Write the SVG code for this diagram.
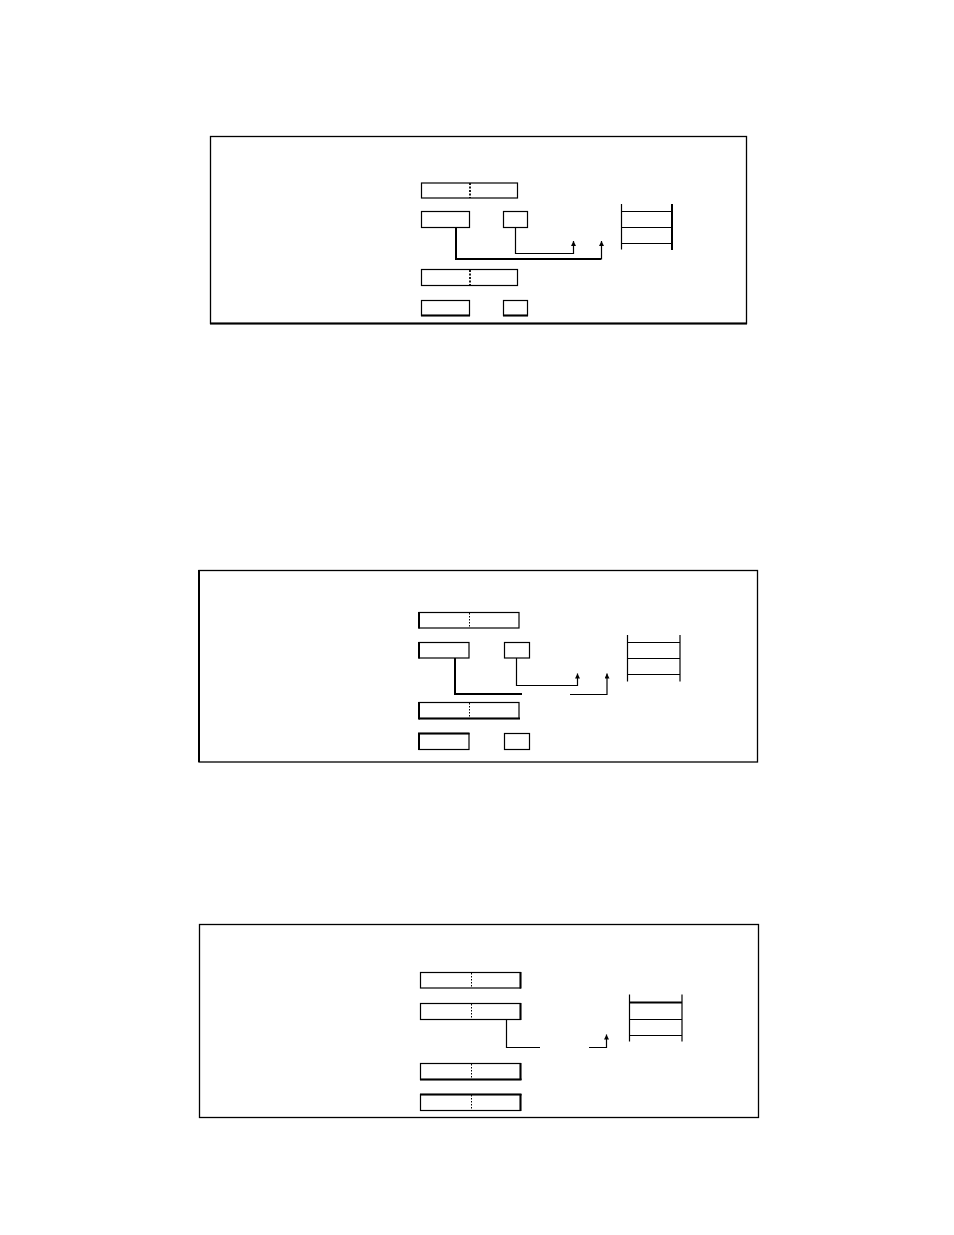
<svg xmlns="http://www.w3.org/2000/svg" width="954" height="1235" viewBox="0 0 954 1235">
<defs>
<style>
.frame{fill:none;stroke:#000;stroke-width:1.3}
.box{fill:#fff;stroke:#000;stroke-width:1.2}
.thk{fill:none;stroke:#000;stroke-width:2.2}
.dot{stroke:#000;stroke-width:1;stroke-dasharray:1.5,1.5}
.dotb{stroke:#000;stroke-width:1.8;stroke-dasharray:2,1.5}
.ln{fill:none;stroke:#000;stroke-width:1.2}
.lnb{fill:none;stroke:#000;stroke-width:2}
</style>
<marker id="ah" viewBox="0 0 10 10" refX="10" refY="5" markerWidth="8" markerHeight="5" markerUnits="userSpaceOnUse" orient="auto">
<path d="M0,0 L10,5 L0,10 Z" fill="#000"/>
</marker>
</defs>
<rect width="954" height="1235" fill="#fff"/>

<!-- Panel 1 -->
<g id="panel1">
<rect class="frame" x="210.5" y="136.5" width="536" height="187"/>
<line class="thk" x1="210" y1="323.5" x2="747" y2="323.5"/>
</g>
<g id="p1-row1"><rect class="box" x="421.5" y="183" width="96" height="15"/><line class="dotb" x1="470" y1="183" x2="470" y2="198"/></g>
<g id="p1-row2a"><rect class="box" x="421.5" y="211.5" width="48" height="16"/></g>
<g id="p1-row2b"><rect class="box" x="503.5" y="211.5" width="24" height="16"/></g>
<g id="p1-stack">
<line class="ln" x1="621.5" y1="204" x2="621.5" y2="249.5"/>
<line class="lnb" x1="672" y1="204" x2="672" y2="250"/>
<line class="ln" x1="621.5" y1="211.5" x2="672" y2="211.5"/>
<line class="ln" x1="621.5" y1="227.5" x2="672" y2="227.5"/>
<line class="ln" x1="621.5" y1="243.5" x2="672" y2="243.5"/>
</g>
<g id="p1-row3"><rect class="box" x="421.5" y="269.5" width="96" height="16"/><line class="dotb" x1="470" y1="270" x2="470" y2="285"/></g>
<g id="p1-row4a"><rect class="box" x="421.5" y="300.5" width="48" height="15"/><line class="lnb" x1="421" y1="315.5" x2="470" y2="315.5"/></g>
<g id="p1-row4b"><rect class="box" x="503.5" y="300.5" width="24" height="15"/><line class="lnb" x1="503" y1="315.5" x2="528" y2="315.5"/></g>
<g id="p1-connectors">
<path class="lnb" d="M456,227.5 V259 H601"/>
<path class="ln" d="M601.5,259.5 V241" marker-end="url(#ah)"/>
<path class="ln" d="M515.5,227.5 V253.5 H573.5 V241" marker-end="url(#ah)"/>
</g>

<!-- Panel 2 -->
<g id="panel2">
<rect class="frame" x="199" y="570.5" width="558.5" height="191.5"/>
<line class="lnb" x1="199" y1="570" x2="199" y2="762"/>
</g>
<g id="p2-row1"><rect class="box" x="419" y="612.5" width="100" height="15.5"/><line class="lnb" x1="419" y1="612" x2="419" y2="628.5"/><line class="dot" x1="469.5" y1="613" x2="469.5" y2="628"/></g>
<g id="p2-row2a"><rect class="box" x="419" y="642.5" width="50" height="15.5"/><line class="lnb" x1="419" y1="642" x2="419" y2="658.5"/></g>
<g id="p2-row2b"><rect class="box" x="504.5" y="642.5" width="25" height="15.5"/></g>
<g id="p2-stack">
<line class="ln" x1="627.5" y1="635" x2="627.5" y2="681.5"/>
<line class="ln" x1="680" y1="635" x2="680" y2="681.5"/>
<line class="ln" x1="627.5" y1="642.5" x2="680" y2="642.5"/>
<line class="ln" x1="627.5" y1="658.5" x2="680" y2="658.5"/>
<line class="ln" x1="627.5" y1="674.5" x2="680" y2="674.5"/>
</g>
<g id="p2-row3"><rect class="box" x="419" y="702.5" width="100" height="16"/><line class="lnb" x1="419" y1="702" x2="419" y2="719.5"/><line class="lnb" x1="419" y1="718.5" x2="520" y2="718.5"/><line class="dot" x1="469.5" y1="703" x2="469.5" y2="718"/></g>
<g id="p2-row4a"><rect class="box" x="419" y="733.5" width="50" height="16"/><line class="lnb" x1="419" y1="733" x2="419" y2="750"/><line class="lnb" x1="418" y1="733.5" x2="469.5" y2="733.5"/></g>
<g id="p2-row4b"><rect class="box" x="504.5" y="733.5" width="25" height="16"/></g>
<g id="p2-connectors">
<path class="lnb" d="M455,658 V694 H522"/>
<path class="ln" d="M570,694.5 H607 V673.5" marker-end="url(#ah)"/>
<path class="ln" d="M516.5,658 V685.5 H577.5 V673.5" marker-end="url(#ah)"/>
</g>

<!-- Panel 3 -->
<g id="panel3">
<rect class="frame" x="199.5" y="924.5" width="559" height="193"/>
</g>
<g id="p3-row1"><rect class="box" x="420.5" y="972.5" width="100" height="15.5"/><line class="lnb" x1="520.5" y1="972" x2="520.5" y2="988.5"/><line class="dot" x1="471.5" y1="973" x2="471.5" y2="988"/></g>
<g id="p3-row2"><rect class="box" x="420.5" y="1003.5" width="100" height="16"/><line class="lnb" x1="520.5" y1="1003" x2="520.5" y2="1020"/><line class="dot" x1="471.5" y1="1004" x2="471.5" y2="1019"/></g>
<g id="p3-stack">
<line class="ln" x1="629.5" y1="994.5" x2="629.5" y2="1041.5"/>
<line class="ln" x1="682" y1="994.5" x2="682" y2="1041.5"/>
<line class="lnb" x1="629.5" y1="1002.5" x2="682" y2="1002.5"/>
<line class="ln" x1="629.5" y1="1019.5" x2="682" y2="1019.5"/>
<line class="ln" x1="629.5" y1="1035.5" x2="682" y2="1035.5"/>
</g>
<g id="p3-row3"><rect class="box" x="420.5" y="1063.5" width="100" height="16"/><line class="lnb" x1="520.5" y1="1063" x2="520.5" y2="1080"/><line class="lnb" x1="420" y1="1079.5" x2="521.5" y2="1079.5"/><line class="dot" x1="471.5" y1="1064" x2="471.5" y2="1079"/></g>
<g id="p3-row4"><rect class="box" x="420.5" y="1094.5" width="100" height="16"/><line class="lnb" x1="520.5" y1="1094" x2="520.5" y2="1111"/><line class="lnb" x1="420" y1="1094.5" x2="521.5" y2="1094.5"/><line class="dot" x1="471.5" y1="1095" x2="471.5" y2="1110"/></g>
<g id="p3-connectors">
<path class="ln" d="M506.5,1019.5 V1047.5 H540"/>
<path class="ln" d="M589,1047.5 H606.5 V1034.5" marker-end="url(#ah)"/>
</g>
</svg>
